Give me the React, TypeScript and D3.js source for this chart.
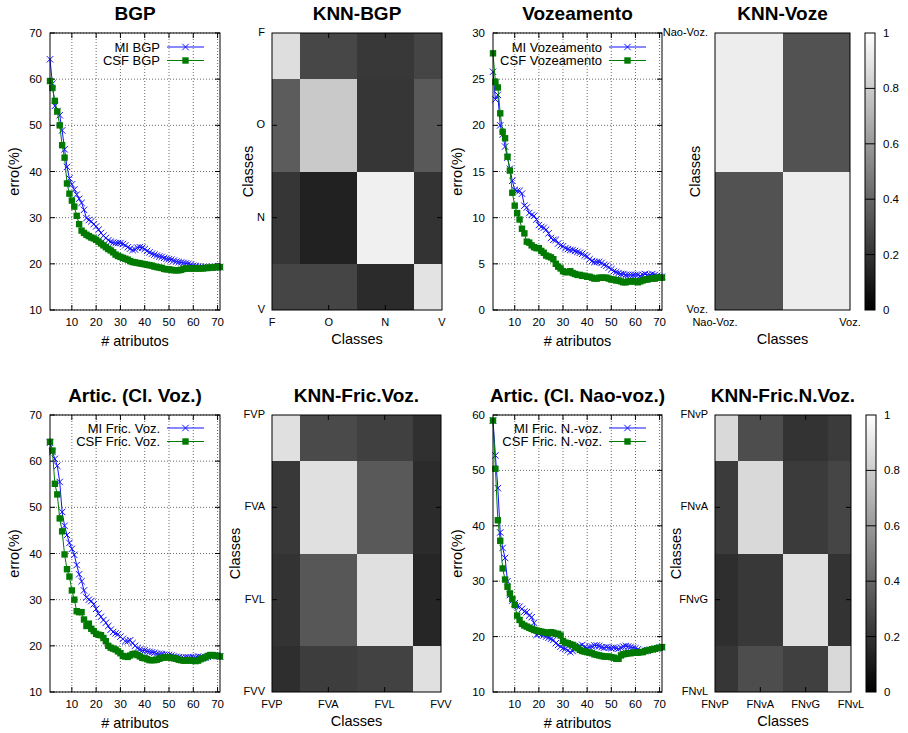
import React, { useEffect, useRef } from 'react';
import * as d3 from 'd3';

// numero de atributos: 1..71
const atributos = d3.range(1, 72);

const miBGP = [
  64.3, 59, 54.2, 53, 52.2, 48.9, 44.8, 41, 38.5, 37.2,
  36.1, 35, 34.1, 33.2, 31.7, 29.9, 29.5, 29.2, 28.6, 28.1,
  27.4, 26.7, 26.1, 25.6, 25.1, 24.8, 24.6, 24.5, 24.5, 24.5,
  24.3, 24, 23.6, 23.3, 23, 23.1, 23.5, 23.6, 23.5, 23.2,
  22.8, 22.5, 22.2, 22, 21.8, 21.6, 21.5, 21.3, 21.1, 21,
  20.9, 20.7, 20.5, 20.4, 20.3, 20.2, 20.1, 20, 19.8, 19.6,
  19.5, 19.4, 19.3, 19.3, 19.3, 19.3, 19.2, 19.3, 19.3, 19.3, 19.3,
];
const csfBGP = [
  59.6, 58.1, 55.3, 53, 50, 45.7, 43, 37.4, 35.2, 33.7,
  32.4, 30.4, 28.6, 27.2, 26.7, 26.3, 26, 25.7, 25.5, 25.2,
  24.8, 24.4, 24, 23.6, 23.2, 22.9, 22.5, 22, 21.7, 21.5,
  21.3, 21.1, 20.9, 20.6, 20.4, 20.3, 20.2, 20.1, 20, 19.9,
  19.8, 19.7, 19.6, 19.4, 19.3, 19.2, 19.1, 18.9, 18.8, 18.8,
  18.7, 18.6, 18.6, 18.6, 18.7, 18.9, 19, 19, 19, 19,
  19, 19, 19, 19, 19.1, 19.1, 19.2, 19.2, 19.3, 19.3, 19.3,
];

const miVoz = [
  25.8, 22.8, 23.3, 20, 19, 17.7, 16.5, 15.3, 14, 13,
  12.9, 12.9, 12.6, 11.3, 11.1, 10.5, 10.3, 10.2, 9.8, 9.2,
  9, 8.9, 8.7, 8.3, 7.8, 7.6, 7.6, 7.2, 7, 6.9,
  6.7, 6.6, 6.5, 6.5, 6.4, 6.3, 6.2, 6.1, 5.9, 5.8,
  5.5, 5.3, 5.2, 5.2, 5.2, 5.1, 4.9, 4.8, 4.6, 4.4,
  4.2, 4.1, 4, 3.9, 3.9, 3.8, 3.8, 3.8, 3.8, 3.8,
  3.8, 3.7, 3.8, 3.9, 3.8, 3.8, 3.9, 3.8, 3.7, 3.6, 3.6,
];
const csfVoz = [
  27.8, 24.7, 24.1, 21.3, 19.3, 18.6, 16.6, 15.1, 12.7, 11.3,
  10.5, 9.8, 8.8, 8.3, 7.4, 7.3, 7, 6.8, 6.7, 6.7,
  6.4, 6.2, 5.9, 5.8, 5.7, 5.5, 5, 4.7, 4.5, 4.2,
  4.1, 4.1, 4.2, 4, 3.9, 3.8, 3.8, 3.7, 3.7, 3.6,
  3.6, 3.5, 3.4, 3.4, 3.5, 3.5, 3.5, 3.5, 3.4, 3.3,
  3.3, 3.2, 3.2, 3.1, 3, 3, 3.1, 3.1, 3.1, 3.1,
  3, 3.1, 3.2, 3.3, 3.3, 3.4, 3.4, 3.4, 3.5, 3.5, 3.5,
];

const miFricVoz = [
  64, 62, 60.5, 59, 55.5, 49, 46, 44, 42.3, 41,
  39.7, 37.5, 35.5, 34, 32, 30.5, 30, 29.7, 29, 28,
  27, 26.3, 25.6, 25, 24.3, 23.5, 23, 22.7, 22.5, 22,
  21.5, 21, 21, 21.2, 20.6, 20, 19.5, 19.2, 19, 19,
  18.8, 18.7, 18.6, 18.5, 18.3, 18.2, 18.2, 18.1, 18.1, 18,
  17.9, 17.7, 17.6, 17.5, 17.4, 17.4, 17.5, 17.5, 17.5, 17.5,
  17.5, 17.7, 17.6, 17.5, 17.5, 17.6, 17.8, 17.9, 17.9, 17.8, 17.7,
];
const csfFricVoz = [
  64.2, 62.3, 55.1, 52.8, 47.6, 44.8, 39.8, 36.6, 35, 32,
  30, 27.5, 27.3, 27.3, 25.7, 24.3, 24.8, 23.7, 23.2, 22.6,
  22.4, 22.3, 21.7, 21, 20, 19.6, 19.4, 19.2, 18.8, 18.4,
  17.8, 17.7, 17.6, 17.9, 18.2, 18.3, 18, 17.7, 17.4, 17.3,
  17.1, 16.9, 16.9, 16.9, 17, 17.2, 17.4, 17.5, 17.5, 17.5,
  17.4, 17.3, 17.2, 17, 16.9, 16.8, 16.8, 16.9, 16.8, 16.8,
  16.7, 16.8, 17.1, 17.3, 17.5, 17.8, 18, 18, 17.9, 17.8, 17.7,
];

const miFricNVoz = [
  59, 52.7, 46.8, 38.8, 36, 34.2, 30, 27.5, 26.5, 26,
  25.5, 25.4, 25, 24.5, 24.4, 23.8, 23.5, 22.5, 20.3, 20.5,
  20.3, 20.2, 20, 19.8, 19.6, 19.4, 18.8, 18.5, 18.2, 17.9,
  17.8, 17.5, 17.2, 17.4, 17.8, 18.1, 18.3, 18.5, 18.1, 17.9,
  18.1, 18.2, 18.4, 18.4, 18.3, 18.1, 18, 18.1, 18, 17.9,
  18, 17.9, 17.8, 18, 18.2, 18.3, 18.2, 18.1, 18, 17.9,
  17.7, 17.4, 17.3, 17.4, 17.5, 17.6, 17.7, 17.8, 17.9, 18, 18.1,
];
const csfFricNVoz = [
  59, 50.3, 41, 37.3, 32.3, 30.3, 29, 27.8, 26.8, 25.7,
  23.8, 23, 22.3, 22, 21.8, 21.6, 21.4, 21.2, 21.1, 21,
  20.9, 20.8, 20.7, 20.6, 20.8, 20.7, 20.5, 20.5, 20.2, 19.2,
  18.9, 18.8, 18.6, 18.5, 18.2, 17.9, 17.6, 17.4, 17.3, 17.2,
  17.1, 17, 16.8, 16.7, 16.6, 16.5, 16.4, 16.4, 16.4, 16.3,
  16.2, 16, 16, 16.6, 16.8, 16.9, 17, 17, 17.1, 17.1,
  17.1, 17.2, 17.2, 17.4, 17.5, 17.6, 17.7, 17.8, 17.9, 18, 18.1,
];

// matrizes de confusao (linhas = classe de cima para baixo)
const classesBGP = ['F', 'O', 'N', 'V'];
const knnBGP = [
  [0.87, 0.28, 0.22, 0.27],
  [0.36, 0.79, 0.21, 0.35],
  [0.21, 0.13, 0.94, 0.2],
  [0.27, 0.27, 0.17, 0.89],
];
const classesVoz = ['Nao-Voz.', 'Voz.'];
const knnVoz = [
  [0.93, 0.32],
  [0.32, 0.93],
];
const classesFricVoz = ['FVP', 'FVA', 'FVL', 'FVV'];
const knnFricVoz = [
  [0.88, 0.29, 0.25, 0.19],
  [0.22, 0.88, 0.35, 0.17],
  [0.2, 0.34, 0.88, 0.15],
  [0.18, 0.24, 0.26, 0.88],
];
const classesFricNVoz = ['FNvP', 'FNvA', 'FNvG', 'FNvL'];
const knnFricNVoz = [
  [0.85, 0.3, 0.2, 0.23],
  [0.23, 0.85, 0.23, 0.27],
  [0.18, 0.22, 0.88, 0.2],
  [0.21, 0.3, 0.25, 0.85],
];

const xTicks = [10, 20, 30, 40, 50, 60, 70];
const cbTicks = [0, 0.2, 0.4, 0.6, 0.8, 1];

const FONT = '"Liberation Sans", Arial, Helvetica, sans-serif';
const BLUE = '#1010ff';
const GREEN = '#007a00';

const gray = (v) => { const c = Math.round(v * 255); return `rgb(${c},${c},${c})`; };

function lineChart(svg, o) {
  const g = svg.append('g');
  const x = d3.scaleLinear().domain([1, 71]).range([o.x0, o.x1]);
  const y = d3.scaleLinear().domain(o.yDomain).range([o.y1, o.y0]);

  // grade pontilhada
  xTicks.forEach((t) => {
    g.append('line').attr('x1', x(t)).attr('x2', x(t)).attr('y1', o.y0).attr('y2', o.y1)
      .attr('stroke', '#444').attr('stroke-width', 0.8).attr('stroke-dasharray', '1,2');
  });
  o.yTicks.forEach((t) => {
    g.append('line').attr('x1', o.x0).attr('x2', o.x1).attr('y1', y(t)).attr('y2', y(t))
      .attr('stroke', '#444').attr('stroke-width', 0.8).attr('stroke-dasharray', '1,2');
  });

  // ticks para dentro, nos quatro lados
  xTicks.forEach((t) => {
    g.append('line').attr('x1', x(t)).attr('x2', x(t)).attr('y1', o.y1).attr('y2', o.y1 - 5).attr('stroke', '#000');
    g.append('line').attr('x1', x(t)).attr('x2', x(t)).attr('y1', o.y0).attr('y2', o.y0 + 5).attr('stroke', '#000');
    g.append('text').attr('x', x(t)).attr('y', o.y1 + 16).attr('text-anchor', 'middle')
      .attr('font-size', 11.5).attr('font-family', FONT).text(t);
  });
  o.yTicks.forEach((t) => {
    g.append('line').attr('x1', o.x0).attr('x2', o.x0 + 5).attr('y1', y(t)).attr('y2', y(t)).attr('stroke', '#000');
    g.append('line').attr('x1', o.x1).attr('x2', o.x1 - 5).attr('y1', y(t)).attr('y2', y(t)).attr('stroke', '#000');
    g.append('text').attr('x', o.x0 - 8).attr('y', y(t) + 4).attr('text-anchor', 'end')
      .attr('font-size', 11.5).attr('font-family', FONT).text(t);
  });

  const line = d3.line().x((d) => x(d[0])).y((d) => y(d[1]));
  const mi = atributos.map((a, i) => [a, o.mi[i]]);
  const csf = atributos.map((a, i) => [a, o.csf[i]]);

  g.append('path').datum(mi).attr('d', line).attr('fill', 'none').attr('stroke', BLUE).attr('stroke-width', 1);
  mi.forEach((d) => {
    const cx = x(d[0]), cy = y(d[1]), s = 3.2;
    g.append('path').attr('d', `M${cx - s},${cy - s}L${cx + s},${cy + s}M${cx - s},${cy + s}L${cx + s},${cy - s}`)
      .attr('stroke', BLUE).attr('stroke-width', 1);
  });
  g.append('path').datum(csf).attr('d', line).attr('fill', 'none').attr('stroke', GREEN).attr('stroke-width', 1);
  csf.forEach((d) => {
    g.append('rect').attr('x', x(d[0]) - 3.2).attr('y', y(d[1]) - 3.2).attr('width', 6.4).attr('height', 6.4).attr('fill', GREEN);
  });

  // legenda (sem caixa, como no gnuplot)
  const lg = [[o.miLabel, 'mi'], [o.csfLabel, 'csf']];
  lg.forEach(([label, kind], i) => {
    const ly = o.y0 + o.legendTop + i * 13.5;
    g.append('text').attr('x', o.x1 - 60).attr('y', ly + 4.5).attr('text-anchor', 'end')
      .attr('font-size', 13).attr('font-family', FONT).text(label);
    const col = kind === 'mi' ? BLUE : GREEN;
    g.append('line').attr('x1', o.x1 - 53).attr('x2', o.x1 - 16).attr('y1', ly).attr('y2', ly).attr('stroke', col);
    const cx = o.x1 - 34.5;
    if (kind === 'mi') {
      g.append('path').attr('d', `M${cx - 3.2},${ly - 3.2}L${cx + 3.2},${ly + 3.2}M${cx - 3.2},${ly + 3.2}L${cx + 3.2},${ly - 3.2}`)
        .attr('stroke', col);
    } else {
      g.append('rect').attr('x', cx - 3.2).attr('y', ly - 3.2).attr('width', 6.4).attr('height', 6.4).attr('fill', col);
    }
  });

  g.append('rect').attr('x', o.x0).attr('y', o.y0).attr('width', o.x1 - o.x0).attr('height', o.y1 - o.y0)
    .attr('fill', 'none').attr('stroke', '#000');

  g.append('text').attr('x', (o.x0 + o.x1) / 2).attr('y', o.y0 - 13).attr('text-anchor', 'middle')
    .attr('font-size', 19).attr('font-weight', 'bold').attr('font-family', FONT).text(o.title);
  g.append('text').attr('transform', `translate(${o.x0 - 31},${(o.y0 + o.y1) / 2}) rotate(-90)`)
    .attr('text-anchor', 'middle').attr('font-size', 14.5).attr('font-family', FONT).text('erro(%)');
  g.append('text').attr('x', (o.x0 + o.x1) / 2).attr('y', o.y1 + 36).attr('text-anchor', 'middle')
    .attr('font-size', 14.5).attr('font-family', FONT).text('# atributos');
}

function heatmap(svg, o) {
  const g = svg.append('g');
  const n = o.classes.length;
  const x = d3.scaleLinear().domain([0, n - 1]).range([o.x0, o.x1]);
  const y = d3.scaleLinear().domain([0, n - 1]).range([o.y0, o.y1]);

  o.matrix.forEach((row, r) => {
    row.forEach((v, c) => {
      const xa = x(Math.max(c - 0.5, 0)), xb = x(Math.min(c + 0.5, n - 1));
      const ya = y(Math.max(r - 0.5, 0)), yb = y(Math.min(r + 0.5, n - 1));
      g.append('rect').attr('x', xa).attr('y', ya).attr('width', xb - xa).attr('height', yb - ya)
        .attr('fill', gray(v)).attr('shape-rendering', 'crispEdges');
    });
  });

  o.classes.forEach((cl, i) => {
    if (i > 0 && i < n - 1) {
      g.append('line').attr('x1', x(i)).attr('x2', x(i)).attr('y1', o.y0).attr('y2', o.y0 + 5).attr('stroke', '#000');
      g.append('line').attr('x1', x(i)).attr('x2', x(i)).attr('y1', o.y1).attr('y2', o.y1 - 5).attr('stroke', '#000');
      g.append('line').attr('x1', o.x0).attr('x2', o.x0 + 5).attr('y1', y(i)).attr('y2', y(i)).attr('stroke', '#000');
      g.append('line').attr('x1', o.x1).attr('x2', o.x1 - 5).attr('y1', y(i)).attr('y2', y(i)).attr('stroke', '#000');
    }
    g.append('text').attr('x', x(i)).attr('y', o.y1 + 16).attr('text-anchor', 'middle')
      .attr('font-size', 11).attr('font-family', FONT).text(cl);
    g.append('text').attr('x', o.x0 - 7).attr('y', y(i) + 3).attr('text-anchor', 'end')
      .attr('font-size', 11).attr('font-family', FONT).text(cl);
  });

  g.append('rect').attr('x', o.x0).attr('y', o.y0).attr('width', o.x1 - o.x0).attr('height', o.y1 - o.y0)
    .attr('fill', 'none').attr('stroke', '#000');

  g.append('text').attr('x', (o.x0 + o.x1) / 2).attr('y', o.y0 - 13).attr('text-anchor', 'middle')
    .attr('font-size', 19).attr('font-weight', 'bold').attr('font-family', FONT).text(o.title);
  g.append('text').attr('x', (o.x0 + o.x1) / 2).attr('y', o.y1 + 34).attr('text-anchor', 'middle')
    .attr('font-size', 14.5).attr('font-family', FONT).text('Classes');
  g.append('text').attr('transform', `translate(${o.yLabelX},${(o.y0 + o.y1) / 2}) rotate(-90)`)
    .attr('text-anchor', 'middle').attr('font-size', 14.5).attr('font-family', FONT).text('Classes');

  if (o.colorbar) {
    const cx0 = o.x1 + 15, cw = 10;
    const cy = d3.scaleLinear().domain([0, 1]).range([o.y1, o.y0]);
    const id = `grad-${o.id}`;
    const grad = svg.append('defs').append('linearGradient').attr('id', id)
      .attr('x1', 0).attr('y1', 1).attr('x2', 0).attr('y2', 0);
    grad.append('stop').attr('offset', 0).attr('stop-color', '#000');
    grad.append('stop').attr('offset', 1).attr('stop-color', '#fff');
    g.append('rect').attr('x', cx0).attr('y', o.y0).attr('width', cw).attr('height', o.y1 - o.y0)
      .attr('fill', `url(#${id})`).attr('stroke', '#000');
    cbTicks.forEach((t) => {
      if (t > 0 && t < 1) {
        g.append('line').attr('x1', cx0).attr('x2', cx0 + cw).attr('y1', cy(t)).attr('y2', cy(t)).attr('stroke', '#000');
      }
      g.append('text').attr('x', cx0 + cw + 8).attr('y', cy(t) + 4).attr('font-size', 11.5)
        .attr('font-family', FONT).text(t);
    });
  }
}

const App = () => {
  const svgRef = useRef();

  useEffect(() => {
    document.body.style.margin = '0';
    const svg = d3.select(svgRef.current);
    svg.selectAll('*').remove();

    const rows = [{ y0: 33, y1: 310 }, { y0: 415, y1: 692 }];

    lineChart(svg, {
      ...rows[0], x0: 50, x1: 220, yDomain: [10, 70], yTicks: [10, 20, 30, 40, 50, 60, 70],
      mi: miBGP, csf: csfBGP, title: 'BGP', miLabel: 'MI BGP', csfLabel: 'CSF BGP', legendTop: 14,
    });
    heatmap(svg, {
      ...rows[0], x0: 272, x1: 442, classes: classesBGP, matrix: knnBGP, title: 'KNN-BGP', yLabelX: 253, id: 'a',
    });
    lineChart(svg, {
      ...rows[0], x0: 493, x1: 662, yDomain: [0, 30], yTicks: [0, 5, 10, 15, 20, 25, 30],
      mi: miVoz, csf: csfVoz, title: 'Vozeamento', miLabel: 'MI Vozeamento', csfLabel: 'CSF Vozeamento', legendTop: 14,
    });
    heatmap(svg, {
      ...rows[0], x0: 715, x1: 850, classes: classesVoz, matrix: knnVoz, title: 'KNN-Voze', yLabelX: 700, id: 'b', colorbar: true,
    });

    lineChart(svg, {
      ...rows[1], x0: 50, x1: 220, yDomain: [10, 70], yTicks: [10, 20, 30, 40, 50, 60, 70],
      mi: miFricVoz, csf: csfFricVoz, title: 'Artic. (Cl. Voz.)', miLabel: 'MI Fric. Voz.', csfLabel: 'CSF Fric. Voz.', legendTop: 13,
    });
    heatmap(svg, {
      ...rows[1], x0: 272, x1: 441, classes: classesFricVoz, matrix: knnFricVoz, title: 'KNN-Fric.Voz.', yLabelX: 240, id: 'c',
    });
    lineChart(svg, {
      ...rows[1], x0: 493, x1: 662, yDomain: [10, 60], yTicks: [10, 20, 30, 40, 50, 60],
      mi: miFricNVoz, csf: csfFricNVoz, title: 'Artic. (Cl. Nao-voz.)', miLabel: 'MI Fric. N.-voz.', csfLabel: 'CSF Fric. N.-voz.', legendTop: 13,
    });
    heatmap(svg, {
      ...rows[1], x0: 715, x1: 851, classes: classesFricNVoz, matrix: knnFricNVoz, title: 'KNN-Fric.N.Voz.', yLabelX: 681, id: 'd', colorbar: true,
    });
  }, []);

  return (
    <svg ref={svgRef} width={908} height={733} style={{ display: 'block', background: '#fff' }}></svg>
  );
};

export default App;
